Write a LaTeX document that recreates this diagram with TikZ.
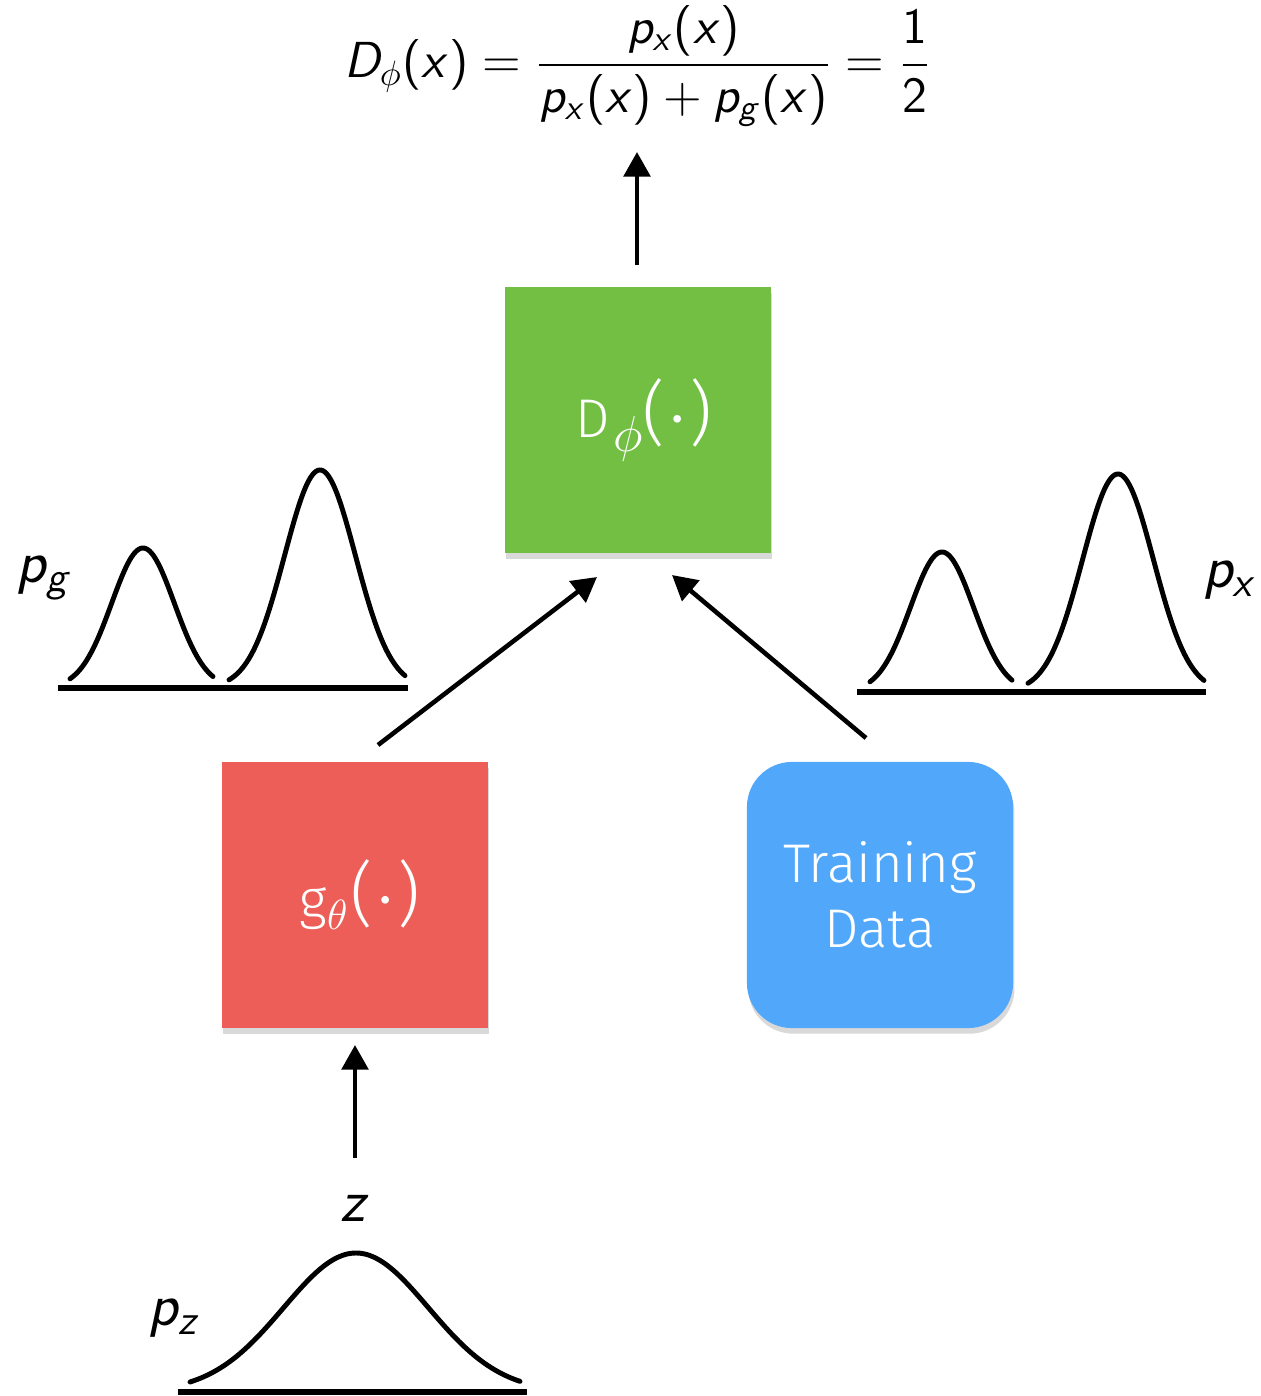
\documentclass[tikz,border=0pt]{standalone}
\usepackage[no-math]{fontspec}
\newfontfamily\boxfont{Fira Sans Light}
\DeclareSymbolFont{sfletters}{OT1}{cmss}{m}{sl}
\DeclareSymbolFont{sfops}{OT1}{cmss}{m}{n}
\DeclareMathSymbol{x}{\mathalpha}{sfletters}{`x}
\DeclareMathSymbol{p}{\mathalpha}{sfletters}{`p}
\DeclareMathSymbol{g}{\mathalpha}{sfletters}{`g}
\DeclareMathSymbol{z}{\mathalpha}{sfletters}{`z}
\DeclareMathSymbol{D}{\mathalpha}{sfletters}{`D}
\DeclareMathSymbol{(}{\mathopen}{sfops}{`(}
\DeclareMathSymbol{)}{\mathclose}{sfops}{`)}
\DeclareMathSymbol{=}{\mathrel}{sfops}{`=}
\DeclareMathSymbol{+}{\mathbin}{sfops}{`+}
\DeclareMathSymbol{1}{\mathalpha}{sfops}{`1}
\DeclareMathSymbol{2}{\mathalpha}{sfops}{`2}
\newcommand\bigparen[1]{{\fontsize{20}{20}\selectfont(\kern0.5pt#1\kern0.5pt)}}
\usetikzlibrary{arrows.meta,shadows}
\definecolor{dgreen}{HTML}{72BF44}
\definecolor{gred}{HTML}{EC5E57}
\definecolor{tblue}{HTML}{51A7F9}
\begin{document}
\begin{tikzpicture}[x=0.01cm,y=-0.01cm,
  blk/.style={minimum width=2.66cm,minimum height=2.66cm,inner sep=0pt,text=white,
    font=\boxfont\fontsize{15.5}{18.5}\selectfont,align=center,
    drop shadow={opacity=0.3,shadow xshift=0.4pt,shadow yshift=-1.6pt}},
  arr/.style={line width=1.3pt,-{Triangle[length=7pt,width=7.5pt]}},
  curve/.style={line width=1.4pt,line cap=round},
  base/.style={line width=1.6pt},
  lab/.style={font=\fontsize{17}{20}\selectfont}]
\useasboundingbox (0,0) rectangle (1261,1396);
% formula
\node[font=\fontsize{14.5}{17}\selectfont] (f) at (638,66)
  {$\displaystyle D_\phi(x) = \frac{p_x(x)}{p_x(x)+p_g(x)} = \frac{1}{2}$};
% boxes
\node[blk,fill=dgreen] (D) at (638,420)
  {\hspace*{0.12cm}D\kern1pt\raisebox{-4pt}{\fontsize{13.5}{13.5}\selectfont$\phi$}\bigparen{$\cdot$}};
\node[blk,fill=gred] (G) at (355,895)
  {\hspace*{0.1cm}g\raisebox{-3pt}{\fontsize{12}{12}\selectfont$\theta$}\kern1pt\bigparen{$\cdot$}};
\node[blk,fill=tblue,rounded corners=0.45cm] (T) at (880,895) {Training\\Data};
% connector endpoints
\coordinate (fD) at (637,265);
\coordinate (ft) at (637,152);
\coordinate (g0) at (378,745);
\coordinate (g1) at (597,577);
\coordinate (t0) at (866,738);
\coordinate (t1) at (672,575);
\coordinate (z0) at (355,1158);
\coordinate (z1) at (355,1045);
\draw[arr] (fD) -- (ft);
\draw[arr] (g0) -- (g1);
\draw[arr] (t0) -- (t1);
\draw[arr] (z0) -- (z1);
% labels
\node[lab] (zl) at (355,1208) {$z$};
\node[lab] (pz) at (175,1318) {$p_z$};
\node[lab] (pg) at (45,578) {$p_g$};
\node[lab] (px) at (1230,580) {$p_x$};
% p_z
\draw[curve] plot[domain=190:520,samples=120,smooth] (\x,{1392-139*exp(-((\x-356)/72.4)^2/2)});
\draw[base] (178,1392) -- (527,1392);
% p_g
\draw[curve] plot[domain=70:213,samples=80,smooth] (\x,{688-140*exp(-((\x-143)/31.3)^2/2)});
\draw[curve] plot[domain=229:405,samples=100,smooth] (\x,{688-218*exp(-((\x-320)/35.5)^2/2)});
\draw[base] (58,688) -- (408,688);
% p_x
\draw[curve] plot[domain=870:1012,samples=80,smooth] (\x,{692-140*exp(-((\x-942)/31.5)^2/2)});
\draw[curve] plot[domain=1028:1204,samples=100,smooth] (\x,{692-218*exp(-((\x-1118)/35.5)^2/2)});
\draw[base] (857,692) -- (1206,692);
\end{tikzpicture}
\end{document}
